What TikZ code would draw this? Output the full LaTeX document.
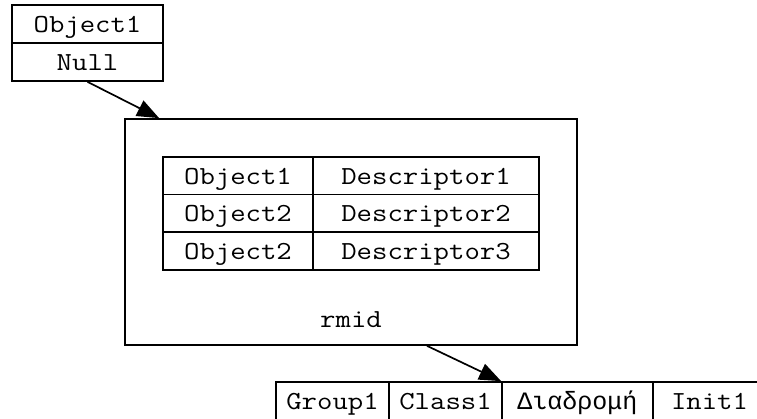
\documentclass[tikz,border=0pt]{standalone}
\usepackage{fontspec}
\newfontfamily\cellfont[FakeStretch=1.15]{Latin Modern Mono}
\newfontfamily\greekfont{Liberation Mono}
\usepackage{tikz}
\usetikzlibrary{arrows.meta,calc}
\tikzset{cell/.style={draw,line width=1.7pt,inner sep=0pt,minimum height=38pt,text height=20pt,text depth=3pt,font=\cellfont\fontsize{26}{30}\selectfont},
  frame/.style={draw,line width=1.7pt,inner sep=0pt,minimum width=452pt,minimum height=226pt}}

\begin{document}
\begin{tikzpicture}[x=1pt,y=-1pt,>={Triangle[length=22pt,width=17pt]}]
    \clip (0,0) rectangle (757,419);
    \node[cell,minimum width=151pt] (obj) at (87.5,24) {Object1};
    \node[cell,minimum width=151pt] (null) at (87.5,62) {Null};

    \node[frame,label={[font=\cellfont\fontsize{26}{30}\selectfont,anchor=base,yshift=18pt]south:rmid}] (rmidbox) at (351,232) {};
    \node[cell,minimum width=150pt,minimum height=37.7pt] (o1) at (238,175.8) {Object1};
    \node[cell,minimum width=226pt,minimum height=37.7pt] (d1) at (426,175.8) {Descriptor1};
    \node[cell,minimum width=150pt,minimum height=37.7pt] (o2) at (238,213.5) {Object2};
    \node[cell,minimum width=226pt,minimum height=37.7pt] (d2) at (426,213.5) {Descriptor2};
    \node[cell,minimum width=150pt,minimum height=37.7pt] (o3) at (238,251.2) {Object2};
    \node[cell,minimum width=226pt,minimum height=37.7pt] (d3) at (426,251.2) {Descriptor3};

    \node[cell,minimum width=113pt] (grp) at (332.5,401) {Group1};
    \node[cell,minimum width=113pt] (cls) at (445.5,401) {Class1};
    \node[cell,minimum width=151pt,font=\greekfont\fontsize{25}{30}\selectfont] (route) at (577.5,401) {Διαδρομή};
    \node[cell,minimum width=113pt] (init) at (709.5,401) {Init1};

    \draw [->,line width=1.7pt] (null.south) to ($(rmidbox.north west)+(35,0)$);
    \draw [->,line width=1.7pt] ($(rmidbox.south)+(76,0)$) to (route.north west);
\end{tikzpicture}
\end{document}
